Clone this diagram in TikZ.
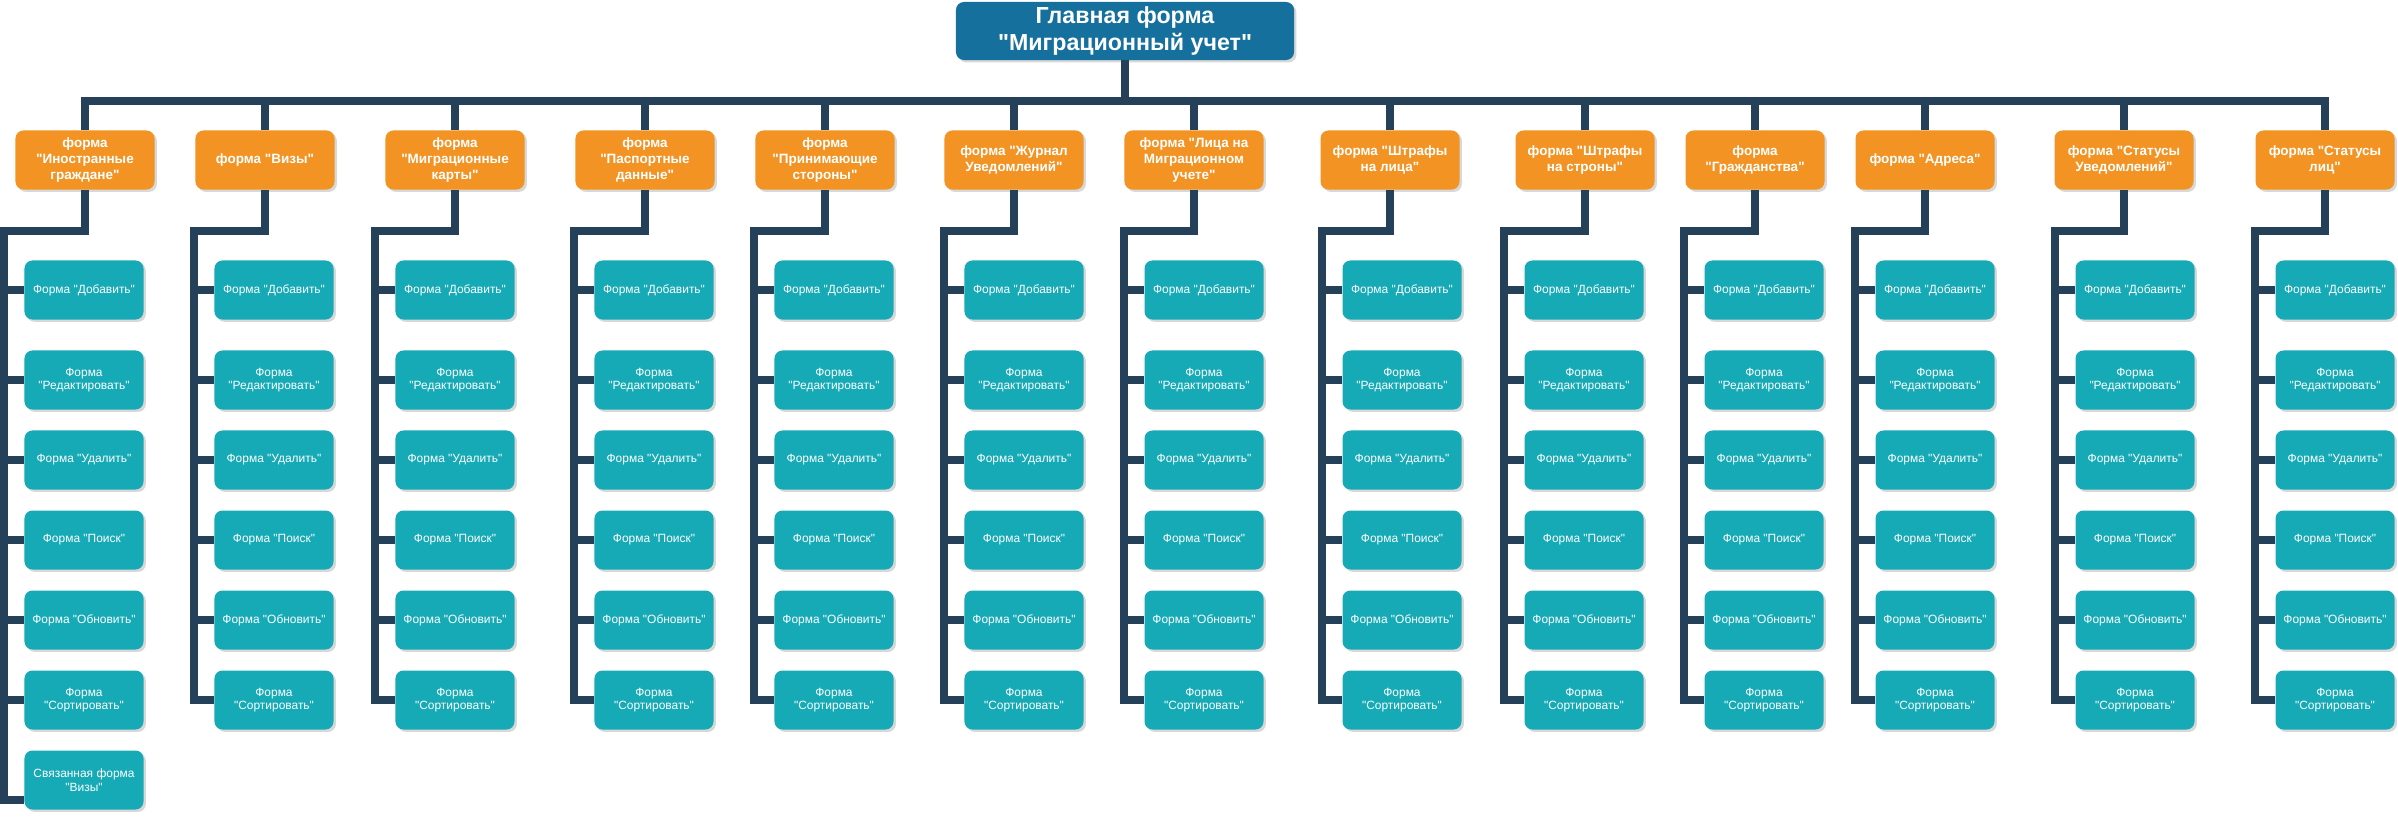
\documentclass[tikz,border=0pt]{standalone}
\usepackage{fontspec}
\setmainfont{Liberation Sans}[Ligatures=TeXOff]
\usepackage{tikz}
\usetikzlibrary{shadows, positioning}

\definecolor{rootblue}{RGB}{22,112,158}
\definecolor{formorange}{RGB}{242,147,35}
\definecolor{subteal}{RGB}{21,170,182}
\definecolor{linknavy}{RGB}{37,65,90}

\tikzset{
  formbox/.style = {rectangle, rounded corners=0.2cm, text=white, align=center,
    drop shadow={shadow xshift=0.06cm, shadow yshift=-0.06cm, opacity=0.3}},
  mainbox/.style = {formbox, fill=rootblue, minimum width=8.45cm, minimum height=1.45cm,
    font=\bfseries\fontsize{16.5}{19}\selectfont},
  tabbox/.style = {formbox, fill=formorange, minimum width=3.475cm, minimum height=1.475cm,
    font=\bfseries\fontsize{9.6}{11.1}\selectfont},
  subbox/.style = {formbox, fill=subteal, minimum width=2.975cm, minimum height=1.475cm,
    font=\fontsize{8.5}{9.7}\selectfont},
  treeline/.style = {draw=linknavy, line width=0.2cm},
}

\begin{document}
\begin{tikzpicture}[x=0.025cm, y=-0.025cm]
  \fill [white] (0,0) rectangle (2398,816);
  \useasboundingbox (0,0) rectangle (2398,816);

  \node (main) [mainbox] at (1125,31) {Главная форма\\"Миграционный учет"};
  \coordinate (bus) at (1125,101);

  % forms of the second level and their sub-forms
  \foreach \i/\v/\cx/\txt in {
      1/4/85/{форма\\"Иностранные\\граждане"},
      2/194/265/{форма "Визы"},
      3/375/455/{форма\\"Миграционные\\карты"},
      4/574/645/{форма\\"Паспортные\\данные"},
      5/754/825/{форма\\"Принимающие\\стороны"},
      6/944/1014/{форма "Журнал\\Уведомлений"},
      7/1124/1194/{форма "Лица на\\Миграционном\\учете"},
      8/1322/1390/{форма "Штрафы\\на лица"},
      9/1504/1585/{форма "Штрафы\\на строны"},
      10/1684/1755/{форма\\"Гражданства"},
      11/1855/1925/{форма "Адреса"},
      12/2055/2124/{форма "Статусы\\Уведомлений"},
      13/2255/2325/{форма "Статусы\\лиц"}} {
    \node (f\i) [tabbox] at (\cx,160) {\txt};
    \coordinate (v\i) at (\v,231);
    \foreach \j/\y/\t in {
        1/290/{Форма "Добавить"},
        2/380/{Форма\\"Редактировать"},
        3/460/{Форма "Удалить"},
        4/540/{Форма "Поиск"},
        5/620/{Форма "Обновить"},
        6/700/{Форма\\"Сортировать"}}
      \node (c\i-\j) [subbox] at (\v+80,\y) {\t};
    \draw [treeline] (f\i.south) |- (v\i) -- (v\i |- c\i-6.west) -- (c\i-6.west);
    \foreach \j in {1,...,5}
      \draw [treeline] (v\i |- c\i-\j.west) -- (c\i-\j.west);
  }

  % extra sub-form of the first column
  \node (c1-7) [subbox] at (84,780) {Связанная форма\\"Визы"};
  \coordinate (v1end) at (4,800);
  \draw [treeline] (v1 |- c1-6.west) -- (v1end) -- (c1-7.west |- v1end);

  % bus from the main form
  \draw [treeline] (main.south) -- (bus);
  \draw [treeline] (f1.north) -- (f1.north |- bus) -- (f13.north |- bus) -- (f13.north);
  \foreach \i in {2,...,12}
    \draw [treeline] (f\i.north) -- (f\i.north |- bus);
\end{tikzpicture}
\end{document}
